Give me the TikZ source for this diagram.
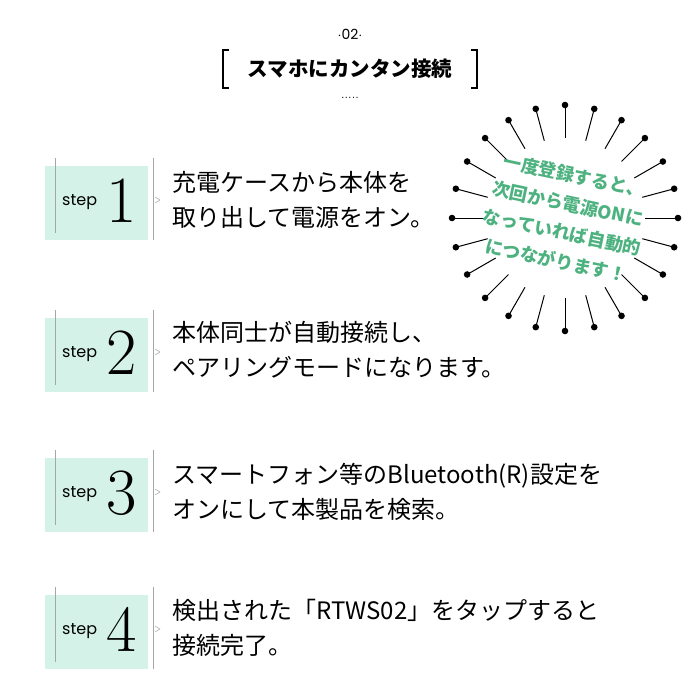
\documentclass[tikz,border=0pt]{standalone}
\usepackage{fontspec}
\usetikzlibrary{calc}
\newfontfamily\jp{Noto Sans CJK JP}
\newfontfamily\pop{Poppins}
\definecolor{mint}{RGB}{212,242,232}
\definecolor{burstg}{RGB}{78,178,128}
\begin{document}
\begin{tikzpicture}[x=1pt,y=-1pt,
  stxt/.style={anchor=west,align=left,font=\jp\fontsize{24}{35}\selectfont,inner sep=0},
  vline/.style={draw=gray!70,line width=0.6pt}]
\useasboundingbox (0,0) rectangle (700,699);
% header
\node (no) at (350,34) {\pop\fontsize{14}{14}\selectfont $\cdot$02$\cdot$};
\node (ttl) at (350,69) {\jp\bfseries\fontsize{20.5}{20.5}\selectfont スマホにカンタン接続};
\draw[line width=1.8pt] (229,50) -- (223,50) -- (223,88) -- (229,88);
\draw[line width=1.8pt] (471,50) -- (477,50) -- (477,88) -- (471,88);
\node (dots) at (350,98) {\fontsize{13}{13}\selectfont .....};
% steps
\foreach \n/\c in {1/203,2/355,3/495,4/632}{
  \fill[mint] (45,\c-37) rectangle (148,\c+37);
  \draw[vline] (55,\c-45) -- (55,\c+30);
  \draw[vline] (153,\c-45) -- (153,\c+37);
  \draw[gray!70,line width=0.5pt] (155,\c-6) -- (160,\c-3) -- (155,\c);
  \node[anchor=base west,inner sep=0] (s\n) at (62,\c+2) {\pop\fontsize{16}{16}\selectfont step};
  \node[anchor=base west,inner sep=0] (d\n) at (106,\c+19) {\fontsize{66}{66}\selectfont \n};
}
\node[stxt] (t1) at (172,200) {充電ケースから本体を\\取り出して電源をオン。};
\node[stxt] (t2) at (172,350) {本体同士が自動接続し、\\ペアリングモードになります。};
\node[stxt] (t3) at (172,492) {スマートフォン等のBluetooth(R)設定を\\オンにして本製品を検索。};
\node[stxt] (t4) at (172,628) {検出された「RTWS02」をタップすると\\接続完了。};
% burst
\coordinate (bc) at (565,218);
\foreach \a in {0,15,...,345}{
  \draw[line width=1pt] ($(bc)+(\a:80)$) -- ($(bc)+(\a:113)$);
  \fill ($(bc)+(\a:113)$) circle (3.3);
}
\node[rotate=-12,text=burstg,align=center,font=\jp\bfseries\fontsize{18}{29}\selectfont,inner sep=0] (bt) at (bc) {一度登録すると、\\次回から電源ONに\\なっていれば自動的\\につながります！};
\end{tikzpicture}
\end{document}
